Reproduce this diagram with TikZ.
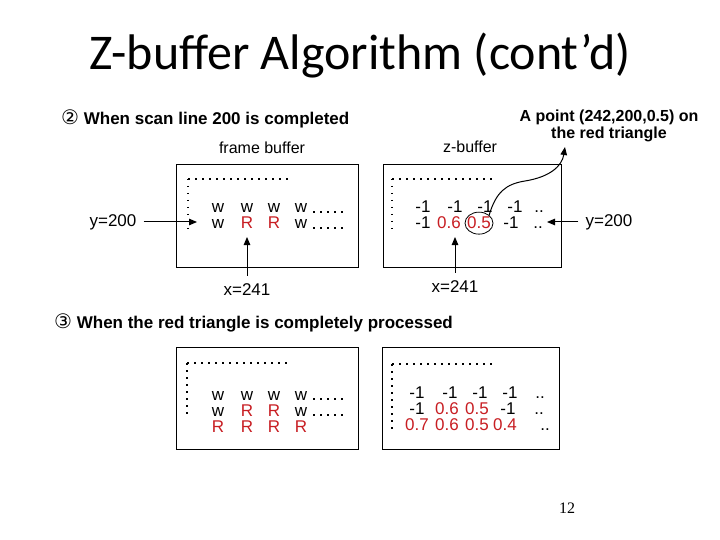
\documentclass[tikz,border=0pt]{standalone}
\usepackage{fontspec}
\setmainfont{Liberation Sans}
\newfontfamily\titlefont{Carlito}
\newfontfamily\symfont{DejaVu Sans}
\newfontfamily\pagefont{Liberation Serif}
\usetikzlibrary{arrows.meta,shapes.geometric}
\definecolor{zred}{RGB}{200,30,35}

\begin{document}
\begin{tikzpicture}[x=1pt,y=-1pt,
	cell/.style={ inner sep=0pt, anchor=base, font=\fontsize{17}{17}\selectfont },
	cellr/.style={ cell, text=zred },
	dots/.style={ line width=1.5pt, dash pattern=on 1.5pt off 5.5pt },
	buf/.style={ line width=0.9pt },
	lab/.style={ font=\fontsize{17}{17}\selectfont, inner xsep=7pt, inner ysep=8pt },
	head/.style={ anchor=base west, inner sep=0pt, font=\bfseries\fontsize{17}{17}\selectfont },
	arr/.style={ -{Triangle[length=8pt,width=6.5pt]}, line width=1pt }
]
\fill[white] (0,0) rectangle (720,540);
\useasboundingbox (0,0) rectangle (720,540);

\node[anchor=base, inner sep=0pt] (title) at (360,70)
  {\titlefont\fontsize{50}{50}\selectfont Z-buffer Algorithm (cont’d)};

% step 2
\node[head] (h2) at (61,125) {{\symfont\mdseries\fontsize{20}{20}\selectfont ②} When scan line 200 is completed};
\node[cell, font=\fontsize{16}{16}\selectfont] (fbl) at (262,154) {frame buffer};
\node[cell, font=\fontsize{16}{16}\selectfont] (zbl) at (470,153) {z-buffer};
\node[anchor=base, inner sep=0pt, font=\bfseries\fontsize{16}{16}\selectfont] (pt1) at (609,122) {A point (242,200,0.5) on};
\node[anchor=base, inner sep=0pt, font=\bfseries\fontsize{16}{16}\selectfont] (pt2) at (609,139) {the red triangle};

\draw[buf] (176,164) rectangle (358,267);
\draw[buf] (383,164) rectangle (561,267);
\draw[dots] (188,179) -- (290,179);
\draw[dots] (188,179) -- (188,230);
\draw[dots] (392,179) -- (496,179);
\draw[dots] (392,179) -- (392,230);

\foreach \x/\t/\c [count=\i] in {218/w/cell,247/w/cell,274/w/cell,301/w/cell}
  \node[\c] (a1-\i) at (\x,213) {\t};
\foreach \x/\t/\c [count=\i] in {218/w/cell,247/R/cellr,274/R/cellr,301/w/cell}
  \node[\c] (a2-\i) at (\x,229) {\t};
\draw[dots] (313,212) -- (345,212);
\draw[dots] (313,228) -- (345,228);

\foreach \x/\t/\c [count=\i] in {423/-1/cell,455/-1/cell,485/-1/cell,515/-1/cell,539/../cell}
  \node[\c] (z1-\i) at (\x,213) {\t};
\foreach \x/\t/\c [count=\i] in {423/-1/cell,449/0.6/cellr,479/0.5/cellr,511/-1/cell,538/../cell}
  \node[\c] (z2-\i) at (\x,229) {\t};
\node[draw, ellipse, line width=0.8pt, inner sep=0pt, minimum width=28pt, minimum height=22pt] (sel) at (z2-3.center) {};

\node[lab] (yl1) at (113,222) {y=200};
\node[lab] (yl2) at (609,222) {y=200};
\node[lab] (xl1) at (247,290) {x=241};
\node[lab] (xl2) at (455,287) {x=241};
\coordinate (yt1) at (197,222);
\coordinate (yt2) at (547,222);
\coordinate (xt1) at (247,237);
\coordinate (xt2) at (455,237);
\coordinate (tip) at (565,147);
\draw[arr] (yl1) -- (yt1);
\draw[arr] (yl2) -- (yt2);
\draw[arr] (xl1) -- (xt1);
\draw[arr] (xl2) -- (xt2);
\draw[arr] (sel.north east) .. controls (496,192) and (506,184) .. (525,181)
  .. controls (550,177) and (562,166) .. (tip);

% step 3
\node[head] (h3) at (54,328) {{\symfont\mdseries\fontsize{20}{20}\selectfont ③} When the red triangle is completely processed};

\draw[buf] (176,347) rectangle (358,449);
\draw[buf] (382,347) rectangle (559,449);
\draw[dots] (187,363) -- (290,363);
\draw[dots] (187,363) -- (187,415);
\draw[dots] (392,364) -- (495,364);
\draw[dots] (392,364) -- (392,430);

\foreach \x/\t/\c [count=\i] in {218/w/cell,247/w/cell,274/w/cell,301/w/cell}
  \node[\c] (b1-\i) at (\x,400) {\t};
\foreach \x/\t/\c [count=\i] in {218/w/cell,247/R/cellr,274/R/cellr,301/w/cell}
  \node[\c] (b2-\i) at (\x,416) {\t};
\foreach \x/\t/\c [count=\i] in {218/R/cellr,247/R/cellr,274/R/cellr,301/R/cellr}
  \node[\c] (b3-\i) at (\x,432) {\t};
\draw[dots] (313,399) -- (345,399);
\draw[dots] (313,415) -- (345,415);

\foreach \x/\t/\c [count=\i] in {417/-1/cell,450/-1/cell,480/-1/cell,510/-1/cell,540/../cell}
  \node[\c] (w1-\i) at (\x,398) {\t};
\foreach \x/\t/\c [count=\i] in {417/-1/cell,447/0.6/cellr,477/0.5/cellr,508/-1/cell,539/../cell}
  \node[\c] (w2-\i) at (\x,414) {\t};
\foreach \x/\t/\c [count=\i] in {417/0.7/cellr,447/0.6/cellr,477/0.5/cellr,505/0.4/cellr,545/../cell}
  \node[\c] (w3-\i) at (\x,430) {\t};

\node[inner sep=0pt, font=\pagefont\fontsize{16}{16}\selectfont] (pg) at (567,508) {12};

\end{tikzpicture}
\end{document}
